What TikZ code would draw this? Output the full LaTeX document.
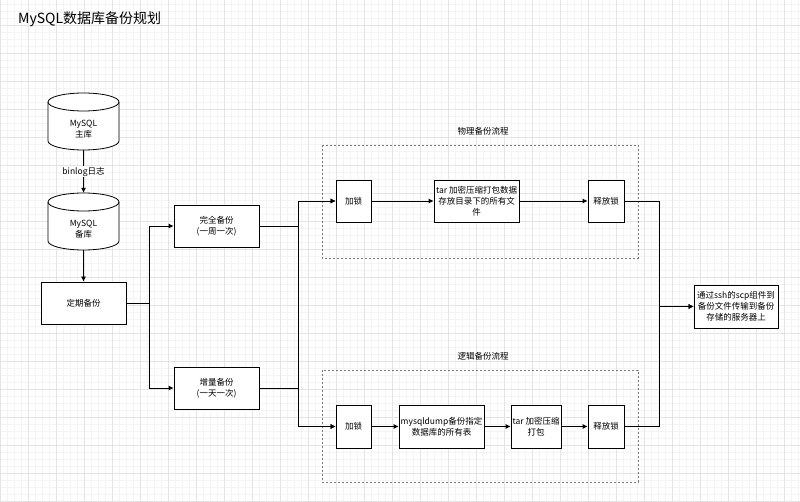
\documentclass[tikz,border=0pt]{standalone}
\usepackage{fontspec}
\setmainfont{Noto Sans CJK SC}
\usetikzlibrary{arrows.meta}
\definecolor{gridminor}{HTML}{F4F4F4}
\definecolor{gridmajor}{HTML}{E4E4E4}
\definecolor{dashgray}{HTML}{7A7A7A}
\tikzset{
  boxnode/.style={draw=black,line width=0.8pt,fill=white,align=center,inner sep=1pt,
    font=\fontsize{8.5}{10.8}\selectfont},
  conn/.style={draw=black,line width=0.8pt,-{Latex[length=5pt,width=5pt]}},
  plainline/.style={draw=black,line width=0.8pt},
  grouplbl/.style={font=\fontsize{8.5}{10.8}\selectfont,inner sep=0pt},
  dashbox/.style={draw=dashgray,line width=0.8pt,dash pattern=on 2pt off 2pt},
  dbshape/.style={minimum width=71pt,minimum height=57pt,inner sep=0pt},
  dbtext/.style={align=center,inner sep=0pt,font=\fontsize{8.5}{10.8}\selectfont},
  edgelbl/.style={fill=white,inner sep=1pt,font=\fontsize{8.5}{10.8}\selectfont}
}
\newcommand\mydbcyl[3]{%
  \draw[line width=0.8pt,fill=white] (#1-35.5,#2+9) -- (#1-35.5,#3-9)
    arc[start angle=180,end angle=0,x radius=35.5,y radius=9]
    -- (#1+35.5,#2+9)
    arc[start angle=0,end angle=-180,x radius=35.5,y radius=9] -- cycle;
  \draw[line width=0.8pt] (#1-35.5,#2+9)
    arc[start angle=180,end angle=0,x radius=35.5,y radius=9];
}
\begin{document}
\begin{tikzpicture}[x=1pt,y=-1pt]
\useasboundingbox (0,0) rectangle (800,502);
\fill[white] (0,0) rectangle (800,502);
% grid
\foreach \i in {0,...,114} \draw[gridminor,line width=0.6pt] (\i*7,0) -- (\i*7,502);
\foreach \i in {0,...,71} \draw[gridminor,line width=0.6pt] (0,4.3+\i*7) -- (800,4.3+\i*7);
\foreach \i in {0,...,28} \draw[gridmajor,line width=0.7pt] (\i*28,0) -- (\i*28,502);
\foreach \i in {0,...,17} \draw[gridmajor,line width=0.7pt] (0,25.3+\i*28) -- (800,25.3+\i*28);

% title
\node[anchor=west,inner sep=0pt,font=\fontsize{14}{16}\selectfont] (title) at (18,19.5) {MySQL数据库备份规划};

% databases
\node[dbshape] (db1) at (83.5,121.5) {};
\mydbcyl{83.5}{93}{150}
\node[dbtext] (db1t) at (83.5,129.5) {MySQL\\主库};
\node[dbshape] (db2) at (83.5,221.5) {};
\mydbcyl{83.5}{193}{250}
\node[dbtext] (db2t) at (83.5,229) {MySQL\\备库};

% main boxes
\node[boxnode,minimum width=85pt,minimum height=42pt] (plan) at (83.5,303) {定期备份};
\node[boxnode,minimum width=85pt,minimum height=42pt] (full) at (216.5,226) {完全备份\\(一周一次)};
\node[boxnode,minimum width=85pt,minimum height=42pt] (incr) at (216.5,388) {增量备份\\(一天一次)};

% containers
\draw[dashbox] (322,145) rectangle (638,258);
\node[grouplbl] (physlbl) at (483,131) {物理备份流程};
\draw[dashbox] (322,370) rectangle (638,482);
\node[grouplbl] (logilbl) at (483,356) {逻辑备份流程};

% physical flow
\node[boxnode,minimum width=35pt,minimum height=42pt] (pl) at (353.5,201) {加锁};
\node[boxnode,minimum width=85pt,minimum height=42pt] (ptar) at (476.5,201) {tar 加密压缩打包数据\\存放目录下的所有文\\件};
\node[boxnode,minimum width=36pt,minimum height=42pt] (prel) at (606,201) {释放锁};

% logical flow
\node[boxnode,minimum width=35pt,minimum height=43pt] (ll) at (353.5,426.5) {加锁};
\node[boxnode,minimum width=85pt,minimum height=43pt] (ldump) at (441.5,426.5) {mysqldump备份指定\\数据库的所有表};
\node[boxnode,minimum width=50pt,minimum height=43pt] (ltar) at (536,426.5) {tar 加密压缩\\打包};
\node[boxnode,minimum width=36pt,minimum height=43pt] (lrel) at (606,426.5) {释放锁};

% final
\node[boxnode,minimum width=84pt,minimum height=43pt] (final) at (736,306.5) {通过ssh的scp组件到\\备份文件传输到备份\\存储的服务器上};

% connectors
\draw[conn] (db1.south) -- node[edgelbl] {binlog日志} (db2.north);
\draw[conn] (db2.south) -- (plan.north);
\draw[conn] (plan.east) -- ++(23,0) |- (full.west);
\draw[conn] (plan.east) -- ++(23,0) |- (incr.west);
\draw[conn] (full.east) -- ++(39,0) |- (pl.west);
\draw[conn] (full.east) -- ++(39,0) |- (ll.west);
\draw[conn] (incr.east) -- ++(39,0) |- (ll.west);
\draw[conn] (incr.east) -- ++(39,0) |- (pl.west);
\draw[conn] (pl) -- (ptar);
\draw[conn] (ptar) -- (prel);
\draw[conn] (ll) -- (ldump);
\draw[conn] (ldump) -- (ltar);
\draw[conn] (ltar) -- (lrel);
\draw[conn] (prel.east) -- ++(35,0) |- (final.west);
\draw[conn] (lrel.east) -- ++(35,0) |- (final.west);
\end{tikzpicture}
\end{document}
